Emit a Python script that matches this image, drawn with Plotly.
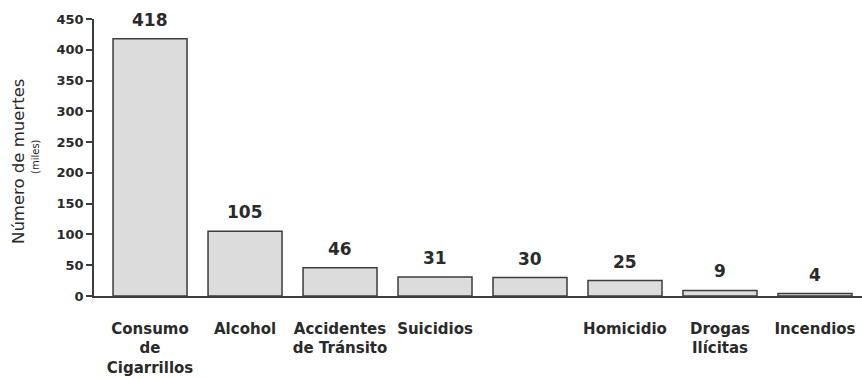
import plotly.graph_objects as go

# Data: deaths per cause (thousands)
categories = ["Consumo<br>de<br>Cigarrillos", "Alcohol", "Accidentes<br>de Tránsito",
              "Suicidios", "", "Homicidio", "Drogas<br>Ilícitas", "Incendios"]
values = [418, 105, 46, 31, 30, 25, 9, 4]
y_ticks = [0, 50, 100, 150, 200, 250, 300, 350, 400, 450]

positions = list(range(len(categories)))
TEXT = "#2a2a2a"
LINE = "#3c3c3c"

fig = go.Figure()
fig.add_trace(go.Bar(
    x=positions,
    y=values,
    marker=dict(color="#dcdcdc", line=dict(color=LINE, width=1.5)),
    hoverinfo="skip",
))

# value labels above each bar
for xi, v in zip(positions, values):
    fig.add_annotation(
        x=xi, y=v, text=f"<b>{v}</b>", showarrow=False,
        xanchor="center", yanchor="bottom", yshift=7,
        font=dict(family="DejaVu Sans", size=17, color=TEXT),
    )

# y-axis title with units underneath
fig.add_annotation(
    xref="paper", yref="paper", x=0, y=0.484, xshift=-75,
    text="Número de muertes", textangle=-90, showarrow=False,
    xanchor="center", yanchor="middle",
    font=dict(family="DejaVu Sans", size=16.5, color=TEXT),
)
fig.add_annotation(
    xref="paper", yref="paper", x=0, y=0.502, xshift=-58,
    text="(miles)", textangle=-90, showarrow=False,
    xanchor="center", yanchor="middle",
    font=dict(family="DejaVu Sans", size=10, color=TEXT),
)

fig.update_layout(
    width=862, height=379,
    margin=dict(l=94, r=0, t=19, b=83),
    plot_bgcolor="white", paper_bgcolor="white",
    bargap=0.221,
    showlegend=False,
    xaxis=dict(
        range=[-0.59, 7.495],
        tickmode="array", tickvals=positions, ticktext=[f"<b>{c}</b>" for c in categories],
        showline=True, linecolor=LINE, linewidth=1.5,
        ticks="outside", ticklen=18, tickcolor="rgba(0,0,0,0)",
        showgrid=False, zeroline=False,
        tickfont=dict(family="DejaVu Sans", size=15, color=TEXT),
    ),
    yaxis=dict(
        range=[0, 450],
        tickmode="array", tickvals=y_ticks,
        ticktext=[f"<b>{t}</b>" for t in y_ticks],
        showline=True, linecolor=LINE, linewidth=1.5,
        ticks="outside", ticklen=6, tickcolor=LINE, tickwidth=1.5,
        showgrid=False, zeroline=False,
        tickfont=dict(family="DejaVu Sans", size=13, color=TEXT),
    ),
)

fig.write_html("out.html")
